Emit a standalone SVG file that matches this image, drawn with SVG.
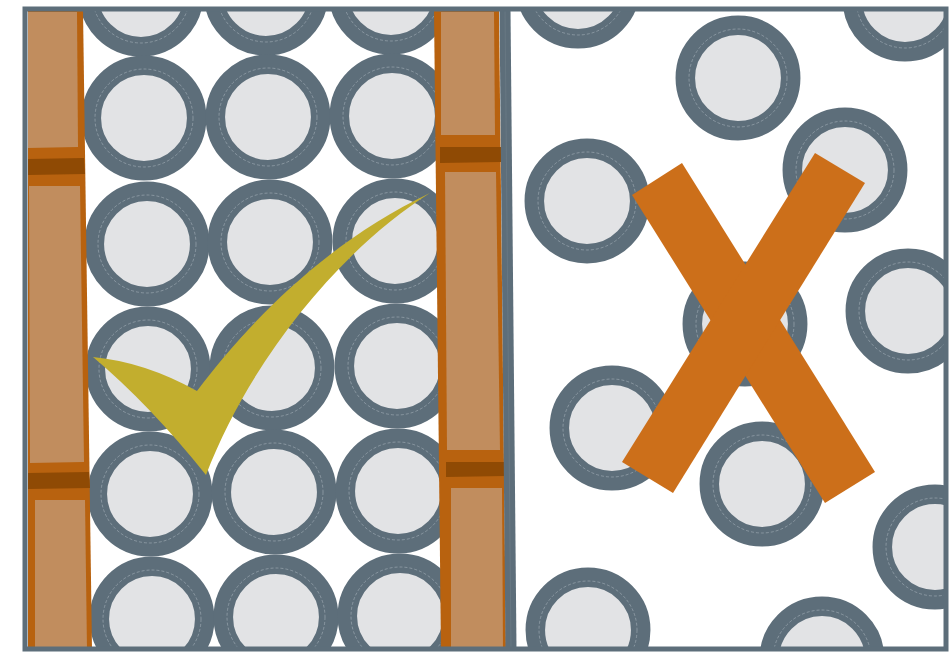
<svg xmlns="http://www.w3.org/2000/svg" width="951" height="652" viewBox="0 0 951 652">
<style>
.ring{fill:#e2e3e5;stroke:#5d6e7a;stroke-width:19.5}
.dash{fill:none;stroke:#b4bec5;stroke-width:0.7;stroke-dasharray:3 2;opacity:0.7}
.or{fill:#b8620f}
.tan{fill:#c18d5e}
.dk{fill:#8f4a04}
</style>
<defs>
<clipPath id="panel"><rect x="25" y="9" width="921" height="640"/></clipPath>
<g id="c"><circle class="ring" r="52.7"/><circle class="dash" r="49"/></g>
</defs>
<rect x="0" y="0" width="951" height="652" fill="#ffffff"/>
<g clip-path="url(#panel)">
<g id="grid-circles">
<use href="#c" x="141" y="-6"/><use href="#c" x="266" y="-7"/><use href="#c" x="391" y="-8"/>
<use href="#c" x="144" y="118"/><use href="#c" x="268" y="117"/><use href="#c" x="392" y="116"/>
<use href="#c" x="147" y="244"/><use href="#c" x="270" y="242"/><use href="#c" x="395" y="241"/>
<use href="#c" x="148" y="369"/><use href="#c" x="272" y="368"/><use href="#c" x="397" y="366"/>
<use href="#c" x="150" y="494"/><use href="#c" x="274" y="492"/><use href="#c" x="398" y="491"/>
<use href="#c" x="152" y="619"/><use href="#c" x="276" y="617"/><use href="#c" x="400" y="616"/>
</g>
<g id="left-bricks">
<polygon class="or" points="28,10 83,10 92,650 28,650"/>
<polygon class="tan" points="28,12 77,12 78,147 28,148"/>
<polygon class="dk" points="28,159 84,158 85,174 28,175"/>
<polygon class="tan" points="29,186 80,186 84,462 30,463"/>
<polygon class="dk" points="28,473 89,472 90,488 28,489"/>
<polygon class="tan" points="35,500 85,500 87,650 35,650"/>
</g>
<g id="right-bricks">
<polygon class="or" points="434,10 499,10 506,650 441,650"/>
<polygon class="tan" points="441,12 494,12 495,135 441,135"/>
<polygon class="dk" points="440,147 501,147 501,162 440,163"/>
<polygon class="tan" points="445,172 496,172 500,450 447,450"/>
<polygon class="dk" points="446,462 504,462 505,476 446,477"/>
<polygon class="tan" points="451,488 502,488 503,650 451,650"/>
</g>
<g id="scatter-circles">
<use href="#c" x="578" y="-14"/>
<use href="#c" x="738" y="78"/>
<use href="#c" x="905" y="-1"/>
<use href="#c" x="587" y="201"/>
<use href="#c" x="845" y="170"/>
<use href="#c" x="908" y="311"/>
<use href="#c" x="745" y="324"/>
<use href="#c" x="612" y="428"/>
<use href="#c" x="762" y="484"/>
<use href="#c" x="935" y="547"/>
<use href="#c" x="588" y="630"/>
<use href="#c" x="822" y="659"/>
</g>
</g>
<g id="divider">
<line x1="505" y1="9" x2="511" y2="650" stroke="#5d6e7a" stroke-width="11"/>
<line x1="505" y1="9" x2="511" y2="650" stroke="#687883" stroke-width="1"/>
</g>
<rect id="frame" x="25" y="9" width="921" height="640" fill="none" stroke="#5d6e7a" stroke-width="5"/>
<path id="check" fill="#c2ae2e" d="M93,357 Q145,362 197,391 C250,320 330,240 430,193 C340,250 250,360 206,475 Q150,405 93,357 Z"/>
<g id="cross" fill="#cc6f1a">
<polygon points="632,195 682,163 875,472 825,503"/>
<polygon points="815,153 865,183 673,493 622,462"/>
</g>
</svg>
